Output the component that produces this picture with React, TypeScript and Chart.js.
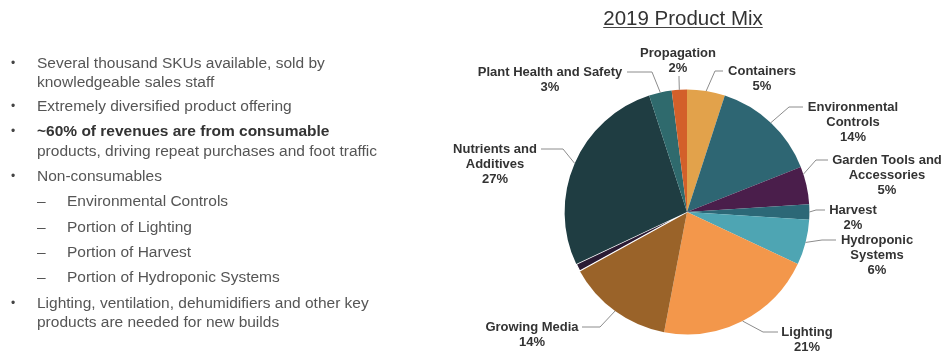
import React, { useEffect, useRef } from "react";
import { Chart, registerables } from "chart.js";

Chart.register(...registerables);

// ---- data ----
const chartTitle = "2019 Product Mix";
const categories = [
  "Containers",
  "Environmental Controls",
  "Garden Tools and Accessories",
  "Harvest",
  "Hydroponic Systems",
  "Lighting",
  "Growing Media",
  "Other",
  "Nutrients and Additives",
  "Plant Health and Safety",
  "Propagation",
];
const shares = [5, 14, 5, 2, 6, 21, 14, 1, 27, 3, 2];
const labelText: string[][] = [
  ["Containers"],
  ["Environmental", "Controls"],
  ["Garden Tools and", "Accessories"],
  ["Harvest"],
  ["Hydroponic", "Systems"],
  ["Lighting"],
  ["Growing Media"],
  [],
  ["Nutrients and", "Additives"],
  ["Plant Health and Safety"],
  ["Propagation"],
];
const sliceColors = [
  "#E2A24B",
  "#2E6673",
  "#4A1E4B",
  "#2C6877",
  "#4EA5B3",
  "#F3974B",
  "#9A6329",
  "#2A1B33",
  "#1F3D42",
  "#2F6A6D",
  "#D3602A",
];

type Bullet = { kind: string; text: string; bold?: boolean; cy: number };
const bullets: Bullet[] = [
  { kind: "dot", text: "Several thousand SKUs available, sold by", cy: 63 },
  { kind: "none", text: "knowledgeable sales staff", cy: 82 },
  { kind: "dot", text: "Extremely diversified product offering", cy: 106 },
  { kind: "dot", text: "~60% of revenues are from consumable", bold: true, cy: 131 },
  { kind: "none", text: "products, driving repeat purchases and foot traffic", cy: 151 },
  { kind: "dot", text: "Non-consumables", cy: 176 },
  { kind: "dash", text: "Environmental Controls", cy: 201 },
  { kind: "dash", text: "Portion of Lighting", cy: 227 },
  { kind: "dash", text: "Portion of Harvest", cy: 252 },
  { kind: "dash", text: "Portion of Hydroponic Systems", cy: 277 },
  { kind: "dot", text: "Lighting, ventilation, dehumidifiers and other key", cy: 303 },
  { kind: "none", text: "products are needed for new builds", cy: 322 },
];

// ---- label layout (positions only) ----
type LabelPos = { x: number; y: number; sx: number; sy: number; ex: number; ey: number; frac: number } | null;
const labelLayout: LabelPos[] = [
  { x: 762, y: 71, sx: 723, sy: 71, ex: 715, ey: 71, frac: 0.5 },
  { x: 853, y: 107, sx: 803, sy: 107, ex: 789, ey: 107, frac: 0.5 },
  { x: 887, y: 160, sx: 828, sy: 160, ex: 816, ey: 160, frac: 0.2 },
  { x: 853, y: 210, sx: 825, sy: 210, ex: 816, ey: 210, frac: 0.5 },
  { x: 877, y: 240, sx: 836, sy: 240, ex: 822, ey: 240, frac: 0.5 },
  { x: 807, y: 332, sx: 778, sy: 332, ex: 763, ey: 332, frac: 0.5 },
  { x: 532, y: 327, sx: 582, sy: 327, ex: 600, ey: 327, frac: 0.5 },
  null,
  { x: 495, y: 149, sx: 541, sy: 149, ex: 563, ey: 149, frac: 0.5 },
  { x: 550, y: 72, sx: 627, sy: 72, ex: 652, ey: 72, frac: 0.5 },
  { x: 678, y: 53, sx: 679, sy: 76, ex: 679, ey: 78, frac: 0.5 },
];

const FONT = "'Liberation Sans', Arial, sans-serif";

const labelPlugin = {
  id: "productMixLabels",
  afterDraw(chart: any) {
    const ctx: CanvasRenderingContext2D = chart.ctx;
    const meta = chart.getDatasetMeta(0);
    ctx.save();
    // title
    ctx.font = `20.5px ${FONT}`;
    ctx.fillStyle = "#333333";
    ctx.textAlign = "center";
    ctx.textBaseline = "alphabetic";
    const tx = 683;
    const ty = 25;
    ctx.fillText(chartTitle, tx, ty);
    const tw = ctx.measureText(chartTitle).width;
    ctx.strokeStyle = "#444444";
    ctx.lineWidth = 1;
    ctx.beginPath();
    ctx.moveTo(tx - tw / 2, ty + 2.5);
    ctx.lineTo(tx + tw / 2, ty + 2.5);
    ctx.stroke();

    // labels + leaders
    meta.data.forEach((arc: any, i: number) => {
      const lp = labelLayout[i];
      if (!lp) return;
      const { x, y, startAngle, endAngle, outerRadius } = arc.getProps(
        ["x", "y", "startAngle", "endAngle", "outerRadius"],
        true
      );
      const a = startAngle + (endAngle - startAngle) * lp.frac;
      const px = x + Math.cos(a) * outerRadius;
      const py = y + Math.sin(a) * outerRadius;
      ctx.strokeStyle = "#8c8c8c";
      ctx.lineWidth = 1;
      ctx.beginPath();
      ctx.moveTo(lp.sx, lp.sy);
      ctx.lineTo(lp.ex, lp.ey);
      ctx.lineTo(px, py);
      ctx.stroke();

      const lines = [...labelText[i], `${shares[i]}%`];
      ctx.font = `bold 13px ${FONT}`;
      ctx.fillStyle = "#333333";
      ctx.textAlign = "center";
      ctx.textBaseline = "middle";
      lines.forEach((t, k) => ctx.fillText(t, lp.x, lp.y + k * 15));
    });
    ctx.restore();
  },
};

export default function App() {
  const canvasRef = useRef<HTMLCanvasElement | null>(null);

  useEffect(() => {
    if (!canvasRef.current) return;
    const chart = new Chart(canvasRef.current, {
      type: "pie",
      data: {
        labels: categories,
        datasets: [
          {
            data: shares,
            backgroundColor: sliceColors,
            borderColor: "#ffffff",
            borderWidth: shares.map((_, i) => (categories[i] === "Other" ? 1.2 : 0)),
          },
        ],
      },
      options: {
        responsive: false,
        animation: false,
        layout: { padding: { left: 564, top: 89, right: 131, bottom: 19 } },
        plugins: {
          legend: { display: false },
          title: { display: false },
          tooltip: { enabled: false },
        },
      },
      plugins: [labelPlugin],
    });
    return () => chart.destroy();
  }, []);

  return (
    <div
      style={{
        position: "fixed",
        left: 0,
        top: 0,
        width: 941,
        height: 354,
        background: "#ffffff",
        overflow: "hidden",
      }}
    >
      <canvas
        ref={canvasRef}
        width={941}
        height={354}
        style={{ position: "absolute", left: 0, top: 0, width: 941, height: 354 }}
      />
      <div
        style={{
          position: "absolute",
          left: 0,
          top: 0,
          fontFamily: FONT,
          fontSize: 15.5,
          color: "#555555",
        }}
      >
        {bullets.map((b, i) => (
          <div key={i}>
            {b.kind === "dot" && (
              <span
                style={{
                  position: "absolute",
                  left: 11,
                  top: b.cy - 10,
                  lineHeight: "20px",
                  fontSize: 12,
                  color: "#444",
                }}
              >
                •
              </span>
            )}
            {b.kind === "dash" && (
              <span
                style={{
                  position: "absolute",
                  left: 37,
                  top: b.cy - 10,
                  lineHeight: "20px",
                  color: "#555",
                }}
              >
                –
              </span>
            )}
            <span
              style={{
                position: "absolute",
                left: b.kind === "dash" ? 67 : 37,
                top: b.cy - 10,
                lineHeight: "20px",
                whiteSpace: "nowrap",
                fontWeight: b.bold ? "bold" : "normal",
                color: b.bold ? "#333333" : "#555555",
              }}
            >
              {b.text}
            </span>
          </div>
        ))}
      </div>
    </div>
  );
}
